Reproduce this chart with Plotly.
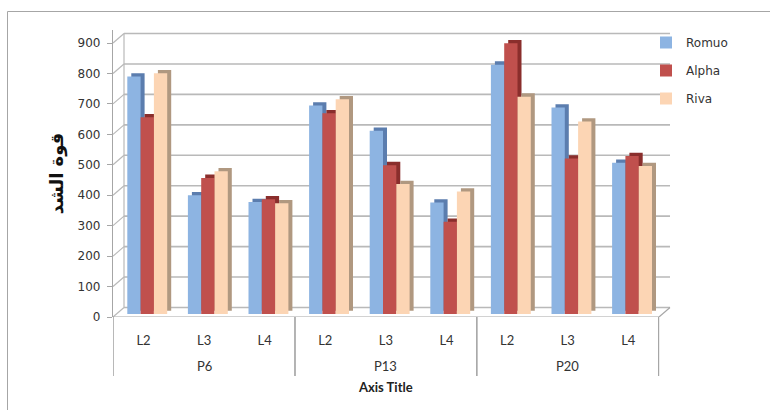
import plotly.graph_objects as go

# ---- data -------------------------------------------------------------
groups = ["P6", "P6", "P6", "P13", "P13", "P13", "P20", "P20", "P20"]
levels = ["L2", "L3", "L4", "L2", "L3", "L4", "L2", "L3", "L4"]
romuo = [780, 390, 368, 685, 602, 366, 819, 678, 497]
alpha = [646, 447, 377, 659, 489, 303, 889, 511, 519]
riva = [791, 469, 364, 705, 427, 402, 714, 632, 486]
tick_vals = [0, 100, 200, 300, 400, 500, 600, 700, 800, 900]

# ---- geometry (pixels) --------------------------------------------------
W, H = 770, 410
L, R = 113, 670            # plot area left / right
T, B = 30, 317             # plot area top / bottom (front floor edge)
K = 274 / 900              # px per value unit
SPAN = (B - T) / K
WALL_DX, WALL_DY = 11, 9.5  # back wall offset
BAR_LIFT = 3               # bars stand slightly behind the front edge
SIDE_DX, SIDE_DY = 4, 3.3  # visible depth of each column
CAT_PX = 60.6              # px per category
FIRST_CENTER = 143.5       # px of first category centre
BAR_PX = 13.3

def px_x(p):
    return (p - L) / (R - L)

def px_y(p):
    return (B - p) / (B - T)

x_pos = list(range(len(levels)))
x_range = [(L - FIRST_CENTER) / CAT_PX, (R - FIRST_CENTER) / CAT_PX]
bar_w = BAR_PX / CAT_PX
first_off = -16.2 / CAT_PX
wall_units = WALL_DY / K

series = [
    ("Romuo", romuo, "#8DB4E2", "#5B7DAE"),
    ("Alpha", alpha, "#C0504D", "#8A2E2C"),
    ("Riva", riva, "#FCD5B4", "#B09880"),
]

fig = go.Figure()
for i, (name, vals, front, side) in enumerate(series):
    off = first_off + i * bar_w
    hover = [f"{g} {lv}<br>{name}: {v}" for g, lv, v in zip(groups, levels, vals)]
    # depth (side + top faces)
    fig.add_trace(go.Bar(
        x=x_pos, y=vals, base=SIDE_DY / K,
        offset=off + SIDE_DX / CAT_PX, width=bar_w,
        marker=dict(color=side, line=dict(width=0)),
        yaxis="y3", showlegend=False, hoverinfo="skip", legendgroup=name,
    ))
    # front face
    fig.add_trace(go.Bar(
        x=x_pos, y=vals, name=name, legendgroup=name,
        offset=off, width=bar_w,
        marker=dict(color=front, line=dict(width=0)),
        hovertext=hover, hoverinfo="text",
        yaxis="y3",
    ))

shapes = []
annotations = []
grid_col = "#B9B9B9"
edge_col = "#A6A6A6"
# outer chart border
shapes.append(dict(type="rect", xref="paper", yref="paper",
                   x0=px_x(7.5), x1=px_x(800), y0=px_y(11.5), y1=px_y(440),
                   line=dict(color=edge_col, width=1), layer="below"))
# back-wall gridlines and their connectors to the front axis
for v in tick_vals:
    shapes.append(dict(type="line", xref="paper", yref="y",
                       x0=px_x(L + WALL_DX), x1=px_x(R), y0=v + wall_units, y1=v + wall_units,
                       line=dict(color=grid_col, width=1.6), layer="below"))
    shapes.append(dict(type="line", xref="paper", yref="y",
                       x0=px_x(L), x1=px_x(L + WALL_DX), y0=v, y1=v + wall_units,
                       line=dict(color=grid_col, width=1.2), layer="below"))
# back wall left edge
shapes.append(dict(type="line", xref="paper", yref="y",
                   x0=px_x(L + WALL_DX), x1=px_x(L + WALL_DX),
                   y0=wall_units, y1=tick_vals[-1] + wall_units,
                   line=dict(color=grid_col, width=1.2), layer="below"))
# floor front edge and right slant
shapes.append(dict(type="line", xref="paper", yref="y",
                   x0=px_x(L), x1=px_x(R - WALL_DX), y0=0, y1=0,
                   line=dict(color=edge_col, width=1.2), layer="below"))
shapes.append(dict(type="line", xref="paper", yref="y",
                   x0=px_x(R - WALL_DX), x1=px_x(R), y0=0, y1=wall_units,
                   line=dict(color=edge_col, width=1.2), layer="below"))

# group dividers and group labels under the category labels
group_names = []
for g in groups:
    if g not in group_names:
        group_names.append(g)
for g in group_names:
    idx = [j for j, gg in enumerate(groups) if gg == g]
    lo, hi = idx[0] - 0.5, idx[-1] + 0.5
    annotations.append(dict(
        x=(lo + hi) / 2, xref="x", y=px_y(366), yref="paper",
        text=g, showarrow=False, xanchor="center", yanchor="middle",
        font=dict(family="Lato", size=13, color="#333333")))
    for xb in (lo, hi):
        shapes.append(dict(type="line", xref="x", yref="paper",
                           x0=xb, x1=xb, y0=px_y(B), y1=px_y(376),
                           line=dict(color=edge_col, width=1.2)))

# axis titles
annotations.append(dict(
    x=(x_pos[0] + x_pos[-1]) / 2, xref="x", y=px_y(387), yref="paper",
    text="<b>Axis Title</b>", showarrow=False, xanchor="center", yanchor="middle",
    font=dict(family="Lato", size=13, color="#222222")))

fig.update_layout(
    width=W, height=H,
    margin=dict(l=L, r=W - R, t=T, b=H - B),
    paper_bgcolor="white", plot_bgcolor="white",
    barmode="overlay",
    shapes=shapes,
    annotations=annotations,
    showlegend=True,
    legend=dict(
        x=px_x(646), y=px_y(28), xanchor="left", yanchor="top",
        font=dict(family="DejaVu Sans", size=12, color="#333333"),
        bgcolor="rgba(0,0,0,0)", tracegroupgap=9, itemwidth=30,
    ),
    xaxis=dict(
        range=x_range, tickvals=x_pos, ticktext=levels,
        showline=False, showgrid=False, zeroline=False,
        ticks="outside", ticklen=11, tickcolor="rgba(0,0,0,0)",
        tickfont=dict(family="Lato", size=13, color="#333333"),
    ),
    yaxis=dict(
        range=[0, SPAN], tickvals=tick_vals,
        showgrid=False, zeroline=False,
        showline=True, linecolor=edge_col, linewidth=1.2,
        ticks="outside", ticklen=5, tickcolor=edge_col,
        ticklabelstandoff=4,
        tickfont=dict(family="DejaVu Sans", size=12, color="#333333"),
        title=dict(text="<b>قوة الشد</b>", standoff=9,
                   font=dict(family="DejaVu Sans", size=18, color="#111111")),
    ),
    yaxis3=dict(
        range=[-BAR_LIFT / K, SPAN - BAR_LIFT / K],
        overlaying="y", visible=False,
    ),
)

fig.write_html("out.html")
